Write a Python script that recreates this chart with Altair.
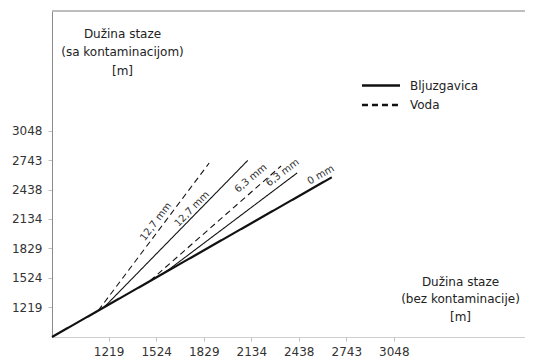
import altair as alt
import pandas as pd

# ---- data ----
line_names = ["0 mm", "12,7 mm voda", "12,7 mm bljuzgavica", "6,3 mm voda", "6,3 mm bljuzgavica"]
line_kind = ["Bljuzgavica", "Voda", "Bljuzgavica", "Voda", "Bljuzgavica"]
x_start = [856, 1153, 1191, 1486, 1588]
y_start = [914, 1188, 1223, 1496, 1590]
x_end = [2650, 1864, 2111, 2325, 2428]
y_end = [2565, 2713, 2739, 2682, 2610]

label_text = ["12,7 mm", "12,7 mm", "6,3 mm", "6,3 mm", "0 mm"]
label_x = [1522, 1753, 2131, 2334, 2580]
label_y = [2106, 2237, 2555, 2613, 2589]
label_angle = [307, 314, 320, 323, 330]

x_ticks = [1219, 1524, 1829, 2134, 2438, 2743, 3048]
y_ticks = [1219, 1524, 1829, 2134, 2438, 2743, 3048]

x_title = ["Dužina staze", "(bez kontaminacije)", "[m]"]
y_title = ["Dužina staze", "(sa kontaminacijom)", "[m]"]

# ---- tables ----
rows = []
for i, name in enumerate(line_names):
    rows.append({"line": name, "vrsta": line_kind[i], "x": x_start[i], "y": y_start[i], "ord": 0})
    rows.append({"line": name, "vrsta": line_kind[i], "x": x_end[i], "y": y_end[i], "ord": 1})
lines_df = pd.DataFrame(rows)
labels_df = pd.DataFrame({"t": label_text, "x": label_x, "y": label_y, "a": label_angle})

FONT = "DejaVu Sans"
W, H = 473, 326

xscale = alt.Scale(domain=[856, 3889], nice=False, zero=False)
yscale = alt.Scale(domain=[914, 4284], nice=False, zero=False)

xaxis = alt.Axis(
    values=x_ticks, format="d", grid=False,
    domainColor="#cfcfcf", tickColor="#c0c0c0", tickSize=4,
    labelPadding=5, labelFontSize=12, labelColor="#333", labelFont=FONT,
    title=x_title, titleAngle=0, titleAlign="center", titleBaseline="top",
    titleX=408, titleY=-61, titleLineHeight=17.5, titleFontSize=12,
    titleFontWeight="normal", titleColor="#222", titleFont=FONT,
)
yaxis = alt.Axis(
    values=y_ticks, format="d", grid=False,
    domainColor="#8a8a8a", tickColor="#c0c0c0", tickSize=4,
    labelPadding=6, labelFontSize=12, labelColor="#333", labelFont=FONT,
    title=y_title, titleAngle=0, titleAlign="center", titleBaseline="top",
    titleX=70, titleY=17, titleLineHeight=18.5, titleFontSize=12,
    titleFontWeight="normal", titleColor="#222", titleFont=FONT,
)

lines = alt.Chart(lines_df).mark_line(color="#111", strokeCap="butt").encode(
    x=alt.X("x:Q", scale=xscale, axis=xaxis),
    y=alt.Y("y:Q", scale=yscale, axis=yaxis),
    detail="line:N",
    order="ord:Q",
    strokeDash=alt.StrokeDash(
        "vrsta:N",
        scale=alt.Scale(domain=["Bljuzgavica", "Voda"], range=[[1, 0], [6, 4]]),
        legend=alt.Legend(
            title=None, orient="none", legendX=323, legendY=68.5,
            symbolType="M-5,0H5", symbolSize=58, symbolStrokeWidth=2.5,
            symbolStrokeColor="#111",
            labelFontSize=12, labelFont=FONT,
            labelColor="#222", labelOffset=23, rowPadding=7.6,
        ),
    ),
    strokeWidth=alt.condition(alt.datum.line == "0 mm", alt.value(2.2), alt.value(1.1)),
)

labels = alt.Chart(labels_df).mark_text(
    font=FONT, fontSize=10, color="#333", align="center", baseline="middle"
).encode(
    x=alt.X("x:Q", scale=xscale),
    y=alt.Y("y:Q", scale=yscale),
    text="t:N",
    angle=alt.Angle("a:Q", scale=None),
)

top_rule = alt.Chart(lines_df).mark_rule(color="#bdbdbd", strokeWidth=1).encode(
    x=alt.value(0), x2=alt.value(W), y=alt.value(0)
)

chart = alt.layer(top_rule, lines, labels).properties(
    width=W, height=H,
    autosize=alt.AutoSizeParams(type="none"),
    padding={"left": 44, "top": 3, "right": 0, "bottom": 24},
).configure_view(stroke=None).configure(background="white")

chart.save("out.html", embed_options={"renderer": "svg", "actions": False})
